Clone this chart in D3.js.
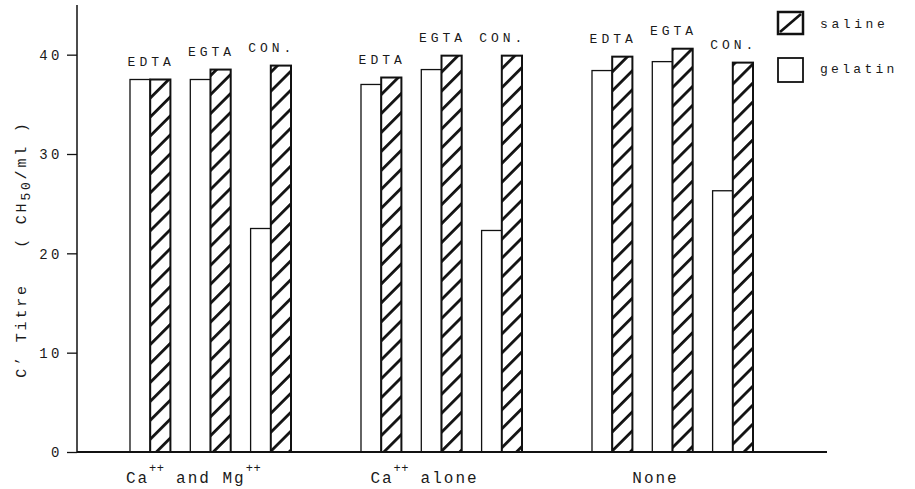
<!DOCTYPE html>
<html>
<head>
<meta charset="utf-8">
<script src="https://cdn.jsdelivr.net/npm/d3@7"></script>
<style>
	body { margin: 0; background: #fff; }
	svg text { font-family: "Liberation Mono", "DejaVu Sans Mono", monospace; fill: #1a1a1a; }
</style>
</head>
<body>
<svg id="chart" width="915" height="489"></svg>
<script>

var groups = ["Ca++ and Mg++", "Ca++ alone", "None"]
var groupLabelParts = [
	[["Ca", 0], ["++", 1], [" and Mg", 0], ["++", 1]],
	[["Ca", 0], ["++", 1], [" alone", 0]],
	[["None", 0]]
]
var treatments = ["EDTA", "EGTA", "CON."]
var series = ["gelatin", "saline"]

// C' titre, one row per group, one value per treatment
var gelatin = [
	[37.5, 37.5, 22.5],
	[37.0, 38.5, 22.3],
	[38.4, 39.3, 26.3]
]
var saline = [
	[37.5, 38.5, 38.9],
	[37.7, 39.9, 39.9],
	[39.8, 40.6, 39.2]
]
var yTicks = [0, 10, 20, 30, 40]
var yMax = 45

var svg = d3.select('#chart')

var defs = svg.append('defs')
defs.append('pattern')
	.attr('id', 'hatch')
	.attr('patternUnits', 'userSpaceOnUse')
	.attr('width', 13.4)
	.attr('height', 13.4)
	.attr('patternTransform', 'rotate(45)')
	.call(function(p) {
		p.append('rect').attr('width', 13.4).attr('height', 13.4).attr('fill', '#fff')
		p.append('rect').attr('x', 0).attr('width', 2.8).attr('height', 13.4).attr('fill', '#111')
	})

var y = d3.scaleLinear().domain([0, yMax]).range([452, 5])

var x0 = d3.scaleBand().domain(groups).range([95, 788]).paddingInner(0.303).paddingOuter(0.1515),
	x1 = d3.scaleBand().domain(treatments).range([0, x0.bandwidth()]).paddingInner(0.33).paddingOuter(0),
	x2 = d3.scaleBand().domain(series).range([0, x1.bandwidth()]).padding(0)

// rows for every bar
var bars = []
groups.forEach(function(g, gi) {
	treatments.forEach(function(t, ti) {
		bars.push({g: g, t: t, s: 'gelatin', v: gelatin[gi][ti]})
		bars.push({g: g, t: t, s: 'saline', v: saline[gi][ti]})
	})
})

var barX = function(d) { return x0(d.g) + x1(d.t) + x2(d.s) }

svg.selectAll('.bar')
	.data(bars)
	.enter()
	.append('rect')
	.attr('class', 'bar')
	.attr('x', barX)
	.attr('y', function(d) { return y(d.v) })
	.attr('width', x2.bandwidth())
	.attr('height', function(d) { return y(0) - y(d.v) })
	.attr('fill', function(d) { return d.s == 'saline' ? 'url(#hatch)' : '#fff' })
	.attr('stroke', '#111')
	.attr('stroke-width', function(d) { return d.s == 'saline' ? 2 : 1.3 })

// treatment labels above each pair
var pairs = []
groups.forEach(function(g, gi) {
	treatments.forEach(function(t, ti) {
		pairs.push({g: g, t: t, top: Math.max(gelatin[gi][ti], saline[gi][ti])})
	})
})

svg.selectAll('.tlabel')
	.data(pairs)
	.enter()
	.append('text')
	.attr('class', 'tlabel')
	.attr('x', function(d) { return x0(d.g) + x1(d.t) + x1.bandwidth() / 2 + 1 })
	.attr('y', function(d) { return y(d.top) - 14 })
	.attr('text-anchor', 'middle')
	.style('font-size', '13px')
	.style('letter-spacing', '4px')
	.text(function(d) { return d.t })

// y axis
var yAxis = d3.axisLeft(y).tickValues(yTicks).tickSize(10).tickPadding(4)
var gy = svg.append('g').attr('transform', 'translate(77,0)').call(yAxis)
gy.select('.domain').attr('stroke', '#111').attr('stroke-width', 1.5).attr('d', 'M0,' + y(yMax) + 'V' + y(0))
gy.selectAll('.tick line').attr('stroke', '#111').attr('stroke-width', 1.3)
gy.selectAll('.tick text')
	.style('font-family', '"Liberation Mono", monospace')
	.style('font-size', '14px')
	.style('letter-spacing', '3.5px')
	.attr('fill', '#1a1a1a')
	.attr('dy', '0.35em')

// baseline
svg.append('line')
	.attr('x1', 77).attr('x2', 827)
	.attr('y1', y(0)).attr('y2', y(0))
	.attr('stroke', '#111')
	.attr('stroke-width', 2)

// group labels with superscripts
svg.selectAll('.glabel')
	.data(groups)
	.enter()
	.append('text')
	.attr('class', 'glabel')
	.attr('x', function(g) { return x0(g) + x0.bandwidth() / 2 - 17 })
	.attr('y', 483)
	.attr('text-anchor', 'middle')
	.style('font-size', '16px')
	.style('letter-spacing', '2px')
	.style('white-space', 'pre')
	.each(function(g, gi) {
		var el = d3.select(this)
		groupLabelParts[gi].forEach(function(p) {
			el.append('tspan')
				.attr('baseline-shift', p[1] ? '11px' : null)
				.style('font-size', p[1] ? '12px' : null)
				.style('letter-spacing', p[1] ? '0.5px' : null)
				.text(p[0])
		})
	})

// y axis title
svg.append('text')
	.attr('transform', 'translate(26,249) rotate(-90)')
	.attr('text-anchor', 'middle')
	.style('font-size', '15px')
	.style('letter-spacing', '2.8px')
	.style('white-space', 'pre')
	.call(function(t) {
		t.append('tspan').text('C\u2019 Titre   ( CH')
		t.append('tspan').attr('baseline-shift', '-4px').style('font-size', '13px').text('50')
		t.append('tspan').text('/ml )')
	})

// legend
var legend = svg.append('g').attr('transform', 'translate(778,12)')
legend.append('rect')
	.attr('width', 25).attr('height', 22)
	.attr('fill', '#fff').attr('stroke', '#111').attr('stroke-width', 2.5)
legend.append('line')
	.attr('x1', 2).attr('y1', 20).attr('x2', 23).attr('y2', 2)
	.attr('stroke', '#111').attr('stroke-width', 2.6)
legend.append('text').attr('x', 42).attr('y', 16).style('font-size', '13px').style('letter-spacing', '3.6px').text('saline')
legend.append('rect')
	.attr('y', 46).attr('width', 25).attr('height', 24)
	.attr('fill', '#fff').attr('stroke', '#111').attr('stroke-width', 1.8)
legend.append('text').attr('x', 42).attr('y', 61).style('font-size', '13px').style('letter-spacing', '3.3px').text('gelatin')

</script>
</body>
</html>
